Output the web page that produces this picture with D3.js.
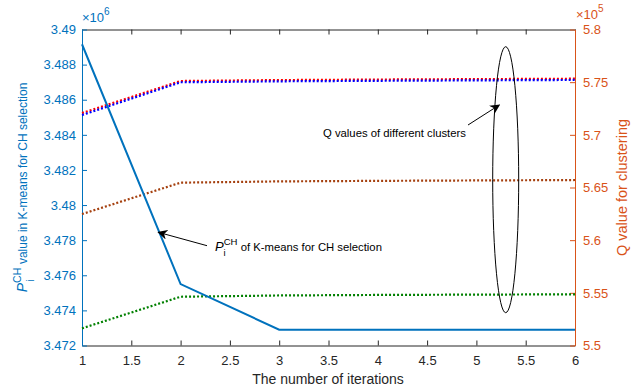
<!DOCTYPE html>
<html>
<head>
<meta charset="utf-8">
<script src="https://cdn.jsdelivr.net/npm/d3@7"></script>
<style>
  html, body { margin: 0; padding: 0; background: #fff; }
  svg { display: block; font-family: "Liberation Sans", Arial, Helvetica, sans-serif; }
</style>
</head>
<body>
<svg id="chart" width="631" height="388"></svg>
<script>
// Iteration index shared by every series
const iterations = [1, 2, 3, 4, 5, 6];

// Left axis (×10^6): P_i^CH of K-means for CH selection
const pch = [3.48916, 3.4755, 3.4729, 3.4729, 3.4729, 3.4729];

// Right axis (×10^5): Q values of the different clusters
const qRed   = [5.7207, 5.7511, 5.7520, 5.7525, 5.7529, 5.7533];
const qBlue  = [5.7188, 5.7499, 5.7508, 5.7513, 5.7517, 5.7521];
const qBrown = [5.6248, 5.6546, 5.6558, 5.6563, 5.6567, 5.6571];
const qGreen = [5.5163, 5.5463, 5.5475, 5.5480, 5.5483, 5.5486];

// Tick values
const xTicks = [1, 1.5, 2, 2.5, 3, 3.5, 4, 4.5, 5, 5.5, 6];
const leftTicks = [3.472, 3.474, 3.476, 3.478, 3.48, 3.482, 3.484, 3.486, 3.488, 3.49];
const rightTicks = [5.5, 5.55, 5.6, 5.65, 5.7, 5.75, 5.8];

const COL_LEFT = "#0072BD";
const COL_RIGHT = "#D95319";
const COL_AXIS = "#262626";

const svg = d3.select("#chart");
const m = { left: 82, right: 575, top: 29.5, bottom: 345.5 };

const x = d3.scaleLinear().domain([1, 6]).range([m.left, m.right]);
const yL = d3.scaleLinear().domain([3.472, 3.49]).range([m.bottom, m.top]);
const yR = d3.scaleLinear().domain([5.5, 5.8]).range([m.bottom, m.top]);

const fmt = d => String(+d.toFixed(4));

// Bottom axis
const gx = svg.append("g").attr("transform", `translate(0,${m.bottom})`)
  .call(d3.axisBottom(x).tickValues(xTicks).tickFormat(fmt).tickSizeInner(-5).tickSizeOuter(0).tickPadding(10));
gx.select(".domain").attr("stroke", COL_AXIS);
gx.selectAll(".tick line").attr("stroke", COL_AXIS);
gx.selectAll(".tick text").attr("fill", COL_AXIS).attr("font-size", 13);

// Top axis (ticks only)
const gt = svg.append("g").attr("transform", `translate(0,${m.top})`)
  .call(d3.axisTop(x).tickValues(xTicks).tickFormat("").tickSizeInner(-5).tickSizeOuter(0));
gt.select(".domain").attr("stroke", COL_AXIS);
gt.selectAll(".tick line").attr("stroke", COL_AXIS);

// Left axis
const gl = svg.append("g").attr("transform", `translate(${m.left},0)`)
  .call(d3.axisLeft(yL).tickValues(leftTicks).tickFormat(fmt).tickSizeInner(-5).tickSizeOuter(0).tickPadding(6));
gl.select(".domain").attr("stroke", COL_LEFT);
gl.selectAll(".tick line").attr("stroke", COL_LEFT);
gl.selectAll(".tick text").attr("fill", COL_LEFT).attr("font-size", 13);

// Right axis
const gr = svg.append("g").attr("transform", `translate(${m.right},0)`)
  .call(d3.axisRight(yR).tickValues(rightTicks).tickFormat(fmt).tickSizeInner(-5).tickSizeOuter(0).tickPadding(8));
gr.select(".domain").attr("stroke", COL_RIGHT);
gr.selectAll(".tick line").attr("stroke", COL_RIGHT);
gr.selectAll(".tick text").attr("fill", COL_RIGHT).attr("font-size", 13);

// Series lines
const lineL = d3.line().x((d, i) => x(iterations[i])).y(d => yL(d));
const lineR = d3.line().x((d, i) => x(iterations[i])).y(d => yR(d));

const dotted = [
  { v: qGreen, c: "#008000" },
  { v: qBrown, c: "#A5400F" },
  { v: qRed, c: "#FF0000" },
  { v: qBlue, c: "#0000FF" }
];
dotted.forEach(s => {
  svg.append("path").datum(s.v).attr("d", lineR)
    .attr("fill", "none").attr("stroke", s.c).attr("stroke-width", 2.2)
    .attr("stroke-dasharray", "2,2");
});

svg.append("path").datum(pch).attr("d", lineL)
  .attr("fill", "none").attr("stroke", COL_LEFT).attr("stroke-width", 2);

// Exponent labels
const expL = svg.append("text").attr("x", 82).attr("y", 22).attr("fill", COL_LEFT).attr("font-size", 13);
expL.append("tspan").text("×10");
expL.append("tspan").attr("dy", -7).attr("font-size", 10).text("6");

const expR = svg.append("text").attr("x", 576).attr("y", 19).attr("fill", COL_RIGHT).attr("font-size", 13);
expR.append("tspan").text("×10");
expR.append("tspan").attr("dy", -7).attr("font-size", 10).text("5");

// Axis titles
svg.append("text").attr("x", 328).attr("y", 384).attr("text-anchor", "middle")
  .attr("fill", COL_AXIS).attr("font-size", 14).text("The number of iterations");

const lt = svg.append("text").attr("transform", `translate(27,${(m.top + m.bottom) / 2}) rotate(-90)`)
  .attr("text-anchor", "middle").attr("fill", COL_LEFT).attr("font-size", 12);
lt.append("tspan").attr("font-style", "italic").attr("font-size", 14).text("P");
lt.append("tspan").attr("dy", -6).attr("font-size", 10.5).text("CH");
lt.append("tspan").attr("dx", -14).attr("dy", 13).attr("font-size", 10.5).text("i");
lt.append("tspan").attr("dx", 12).attr("dy", -7).text(" value in K-means for CH selection");

svg.append("text").attr("transform", `translate(627,${(m.top + m.bottom) / 2}) rotate(-90)`)
  .attr("text-anchor", "middle").attr("fill", COL_RIGHT).attr("font-size", 14.5)
  .text("Q value for clustering");

// Annotations
const defs = svg.append("defs");
defs.append("marker").attr("id", "ah").attr("viewBox", "0 0 10 10")
  .attr("refX", 9).attr("refY", 5).attr("markerWidth", 10).attr("markerHeight", 10)
  .attr("markerUnits", "userSpaceOnUse").attr("orient", "auto")
  .append("path").attr("d", "M0,0 L10,5 L0,10 L3,5 Z").attr("fill", "#000");

svg.append("ellipse").attr("cx", 505.7).attr("cy", 179.7).attr("rx", 13).attr("ry", 133)
  .attr("fill", "none").attr("stroke", "#000").attr("stroke-width", 1);

svg.append("line").attr("x1", 468).attr("y1", 125).attr("x2", 499.3).attr("y2", 105)
  .attr("stroke", "#000").attr("stroke-width", 1).attr("marker-end", "url(#ah)");
svg.append("text").attr("x", 323).attr("y", 137).attr("font-size", 11.3).attr("fill", "#000")
  .text("Q values of different clusters");

svg.append("line").attr("x1", 207).attr("y1", 245.7).attr("x2", 158.3).attr("y2", 232.3)
  .attr("stroke", "#000").attr("stroke-width", 1).attr("marker-end", "url(#ah)");
const ann = svg.append("text").attr("x", 215).attr("y", 251).attr("font-size", 11.3).attr("fill", "#000");
ann.append("tspan").attr("font-style", "italic").attr("font-size", 13).text("P");
ann.append("tspan").attr("dy", -6).attr("font-size", 9.5).text("CH");
ann.append("tspan").attr("dx", -14).attr("dy", 11).attr("font-size", 9.5).text("i");
ann.append("tspan").attr("dx", 12).attr("dy", -5).text(" of K-means for CH selection");
</script>
</body>
</html>
